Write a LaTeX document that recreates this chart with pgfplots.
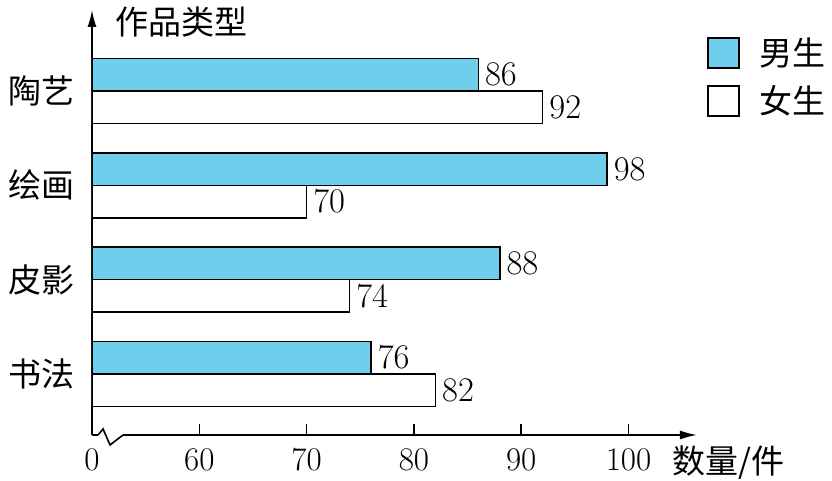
\documentclass[border=0pt]{standalone}
\usepackage{pgfplots}
\pgfplotsset{compat=1.18}
\usepackage{fontspec}
\usetikzlibrary{arrows.meta}
\newfontfamily\cjk{Noto Sans CJK SC}
\definecolor{boyblue}{RGB}{110,206,236}
\begin{document}
\begin{tikzpicture}
\path[use as bounding box] (0,0) rectangle (416pt,240.5pt);
\begin{axis}[
  at={(46pt,23pt)}, anchor=south west,
  scale only axis, width=302.5pt, height=212.5pt,
  xbar, clip mode=individual,
  xmin=50, xmax=106.38, ymin=-0.647, ymax=3.859,
  axis lines=left,
  axis line style={line width=0.8pt, -{Latex[length=8.5pt,width=4.5pt]}},
  xtick={50,60,70,80,90,100},
  xticklabels={0,60,70,80,90,100},
  ytick={0,1,2,3},
  yticklabels={书法,皮影,绘画,陶艺},
  tick align=inside,
  major tick length=5.5pt,
  xtick style={line width=0.8pt, black},
  ytick style={draw=none},
  xticklabel style={font=\fontsize{16.5}{18}\selectfont, anchor=north, inner sep=0pt, yshift=-6.5pt},
  yticklabel style={font=\cjk\fontsize{16.5}{18}\selectfont, anchor=east, inner sep=0pt, xshift=-8.5pt},
  xlabel={数量/件},
  xlabel style={font=\cjk\fontsize{16.5}{18}\selectfont, at={(axis description cs:0.9587,-0.0659)}, anchor=west, inner sep=0pt},
  ylabel={作品类型},
  ylabel style={font=\cjk\fontsize{16.5}{18}\selectfont, at={(axis description cs:0.038,0.9718)}, anchor=west, inner sep=0pt, rotate=-90},
  bar width=16.25pt,
  nodes near coords,
  every node near coord/.append style={font=\fontsize{16.5}{18}\selectfont, anchor=west, inner sep=0pt, xshift=3pt},
  legend style={draw=none, fill=none, at={(axis description cs:1.0165,0.9365)}, anchor=north west,
    font=\cjk\fontsize{16.5}{18}\selectfont, inner sep=0pt, row sep=8pt,
    nodes={inner sep=0pt}},
  legend cell align=left,
  legend image code/.code={\draw[#1, line width=0.8pt] (0pt,-7.5pt) rectangle (15.5pt,7.5pt); \path (25.5pt,0pt);},
]
\addplot[draw=black, line width=0.8pt, fill=boyblue, bar shift=8.125pt] coordinates {(76,0) (88,1) (98,2) (86,3)};
\addlegendentry{男生}
\addplot[draw=black, line width=0.8pt, fill=white, bar shift=-8.125pt] coordinates {(82,0) (74,1) (70,2) (92,3)};
\addlegendentry{女生}
\fill[white] (axis cs:50.56,-0.70) rectangle (axis cs:52.89,-0.60);
\draw[line width=0.8pt] (axis cs:50.56,-0.647) -- (axis cs:51.03,-0.583) -- (axis cs:51.68,-0.753) -- (axis cs:52.89,-0.647);
\end{axis}
\end{tikzpicture}
\end{document}
